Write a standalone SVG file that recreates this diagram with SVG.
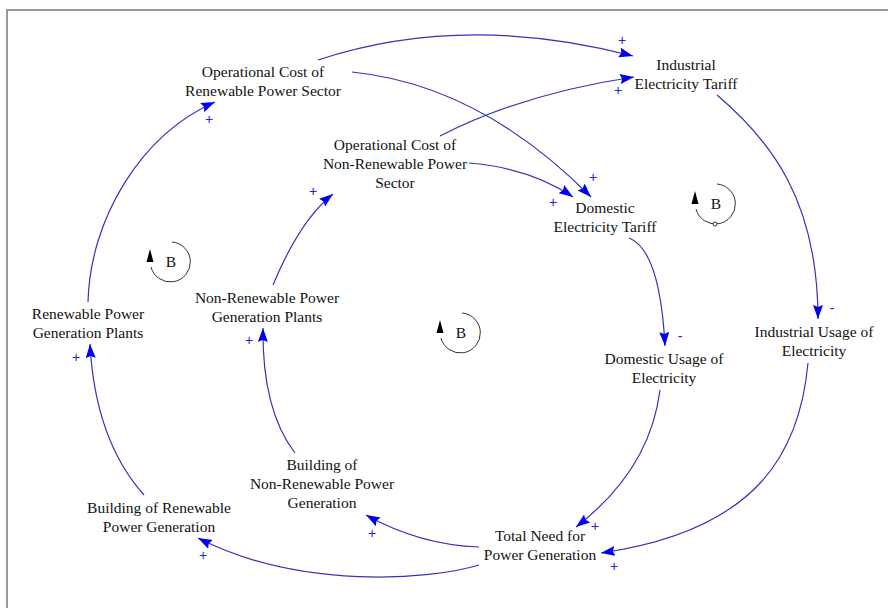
<svg xmlns="http://www.w3.org/2000/svg" width="888" height="608" viewBox="0 0 888 608">
<defs>
<style>
.n text{font-family:"Liberation Serif","Times New Roman",serif;font-size:15.5px;fill:#111;text-anchor:middle}
.c path{fill:none;stroke:#3333bb;stroke-width:1.2;marker-end:url(#ah)}
.p{font-family:"Liberation Sans",Arial,sans-serif;font-size:14px;fill:#2222dd;text-anchor:middle}
.lp{fill:none;stroke:#333;stroke-width:1}
.lb{font-family:"Liberation Serif","Times New Roman",serif;font-size:15.5px;fill:#111;text-anchor:middle}
</style>
<marker id="ah" markerUnits="userSpaceOnUse" markerWidth="15" markerHeight="11" refX="14" refY="5" orient="auto">
<path d="M0,0 L14,5 L0,10 L2,5 z" fill="#0000ee"/>
</marker>
</defs>
<rect width="888" height="608" fill="#fff"/>
<path d="M7,608 V10 H888" fill="none" stroke="#999" stroke-width="2"/>

<g id="connectors" class="c">
<path d="M318,60 Q464,12 633,56"/>
<path d="M440,136 Q523,93.5 634,77"/>
<path d="M352,72 Q480,85 591,197"/>
<path d="M469,163 Q530,168 573,197"/>
<path d="M629,238 Q660,250 665,346"/>
<path d="M717,95 C770,140 818,200 818,319"/>
<path d="M660,390 Q650,470 576,527"/>
<path d="M808,363 C800,450 760,530 601,553"/>
<path d="M479,547 Q420,545 366,515"/>
<path d="M479,565 C430,580 300,590 198,538"/>
<path d="M144,495 Q95,440 90,344"/>
<path d="M295,453 Q262,410 263,328"/>
<path d="M88,302 C90,220 140,135 215,102"/>
<path d="M273,285 Q300,220 333,194"/>
</g>

<g id="polarities">
<text class="p" x="622" y="45">+</text>
<text class="p" x="618" y="95">+</text>
<text class="p" x="209" y="124">+</text>
<text class="p" x="313" y="196">+</text>
<text class="p" x="593" y="182">+</text>
<text class="p" x="553" y="207">+</text>
<text class="p" x="680" y="341">-</text>
<text class="p" x="832" y="313">-</text>
<text class="p" x="76" y="362">+</text>
<text class="p" x="249" y="345">+</text>
<text class="p" x="372" y="538">+</text>
<text class="p" x="203" y="560">+</text>
<text class="p" x="595" y="531">+</text>
<text class="p" x="614" y="571">+</text>
</g>

<g id="loops">
<g id="loop1">
<path class="lp" d="M172,242 A20,20 0 1 1 151,267"/>
<polygon points="150,249 146.5,262 153.5,262" fill="#000"/>
<text class="lb" x="171" y="267">B</text>
</g>
<g id="loop2">
<path class="lp" d="M462,313 A20,20 0 1 1 441,338"/>
<polygon points="440,320 436.5,333 443.5,333" fill="#000"/>
<text class="lb" x="461" y="338">B</text>
</g>
<g id="loop3">
<path class="lp" d="M717,184 A20,20 0 1 1 696,209"/>
<polygon points="695,191 691.5,204 698.5,204" fill="#000"/>
<circle cx="715" cy="224" r="2" fill="#fff" stroke="#333" stroke-width="1"/>
<text class="lb" x="716" y="209">B</text>
</g>
</g>

<g id="opcost-renewable" class="n"><text x="263" y="77">Operational Cost of</text><text x="263" y="96">Renewable Power Sector</text></g>
<g id="industrial-tariff" class="n"><text x="686" y="70">Industrial</text><text x="686" y="89">Electricity Tariff</text></g>
<g id="opcost-nonrenewable" class="n"><text x="395" y="150">Operational Cost of</text><text x="395" y="169">Non-Renewable Power</text><text x="395" y="188">Sector</text></g>
<g id="domestic-tariff" class="n"><text x="605" y="213">Domestic</text><text x="605" y="232">Electricity Tariff</text></g>
<g id="renewable-plants" class="n"><text x="88" y="319">Renewable Power</text><text x="88" y="338">Generation Plants</text></g>
<g id="nonrenewable-plants" class="n"><text x="267" y="303">Non-Renewable Power</text><text x="267" y="322">Generation Plants</text></g>
<g id="domestic-usage" class="n"><text x="664" y="364">Domestic Usage of</text><text x="664" y="383">Electricity</text></g>
<g id="industrial-usage" class="n"><text x="814" y="337">Industrial Usage of</text><text x="814" y="356">Electricity</text></g>
<g id="building-nonrenewable" class="n"><text x="322" y="470">Building of</text><text x="322" y="489">Non-Renewable Power</text><text x="322" y="508">Generation</text></g>
<g id="building-renewable" class="n"><text x="159" y="513">Building of Renewable</text><text x="159" y="532">Power Generation</text></g>
<g id="total-need" class="n"><text x="540" y="541">Total Need for</text><text x="540" y="560">Power Generation</text></g>
</svg>
